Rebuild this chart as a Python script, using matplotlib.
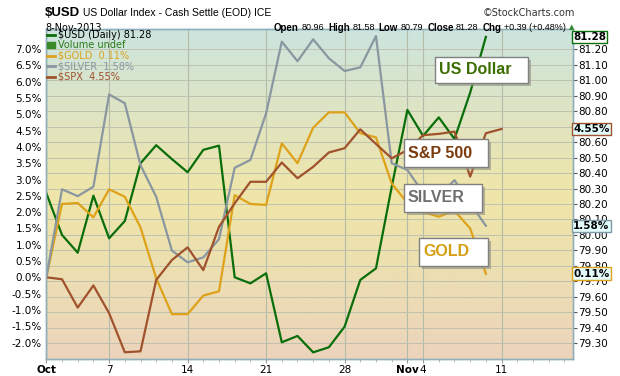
import numpy as np
import pandas as pd
import matplotlib
matplotlib.use("Agg")
import matplotlib.pyplot as plt
from matplotlib.lines import Line2D
from matplotlib.patches import Rectangle
from matplotlib.transforms import blended_transform_factory

# trading days Oct 1 - Nov 11, 2013 (SPX has one more day than the others)
dates = pd.bdate_range("2013-10-01", "2013-11-11")

usd = [80.27, 80.00, 79.885, 80.254, 79.978, 80.09, 80.463, 80.58, 80.49, 80.405,
       80.55, 80.577, 79.726, 79.687, 79.752, 79.306, 79.347, 79.241, 79.274, 79.407,
       79.709, 79.784, 80.31, 80.808, 80.64, 80.76, 80.62, 80.92, 81.28]
gold = [0.0, 2.25, 2.28, 1.84, 2.70, 2.47, 1.53, -0.03, -1.13, -1.13,
        -0.56, -0.43, 2.52, 2.25, 2.22, 4.11, 3.50, 4.59, 5.06, 5.06,
        4.42, 4.29, 2.88, 2.28, 2.00, 1.86, 2.04, 1.50, 0.11]
silver = [0.0, 2.70, 2.49, 2.78, 5.61, 5.34, 3.44, 2.47, 0.82, 0.46,
          0.61, 1.17, 3.36, 3.60, 5.03, 7.23, 6.63, 7.30, 6.72, 6.33,
          6.44, 7.40, 3.50, 3.29, 2.60, 2.50, 2.98, 2.27, 1.58]
spx = [0.0, -0.06, -0.93, -0.25, -1.10, -2.30, -2.27, -0.08, 0.53, 0.92,
       0.22, 1.55, 2.27, 2.93, 2.93, 3.52, 3.04, 3.39, 3.83, 3.96,
       4.54, 4.09, 3.65, 3.90, 4.36, 4.40, 4.47, 3.09, 4.42, 4.55]

pct_ticks = np.arange(-2.0, 7.01, 0.5)
price_ticks = np.arange(79.3, 81.21, 0.1)

header_keys = ["Open", "High", "Low", "Close", "Chg"]
header_vals = ["80.96", "81.58", "80.79", "81.28", "+0.39 (+0.48%)"]

C_USD = "#0a6e0a"
C_GOLD = "#dea21a"
C_SILVER = "#8a96a0"
C_SPX = "#a0522d"
GRID = "#bfc2ae"
SPINE = "#8fb0ba"

W, H = 620, 376
fig = plt.figure(figsize=(6.2, 3.76), dpi=100)
rect = [46 / W, 1 - 359 / H, (573 - 46) / W, (359 - 29) / H]

# gradient background
bg = fig.add_axes(rect)
bg.set_zorder(-1)
stops = np.array([[204, 229, 222], [226, 228, 190], [240, 230, 168], [236, 224, 176], [236, 212, 188]]) / 255
pos = np.array([0.0, 0.3, 0.5, 0.7, 1.0])
t = np.linspace(0, 1, 200)
grad = np.stack([np.interp(t, pos, stops[:, k]) for k in range(3)], axis=1)[:, None, :]
bg.imshow(grad, aspect="auto", extent=[0, 1, 0, 1])
bg.axis("off")

ax = fig.add_axes(rect)
ax2 = ax.twinx()
ax.set_zorder(2)
ax.patch.set_visible(False)
ax2.patch.set_visible(False)

x = np.arange(len(dates))
xl = (-0.02, 33.55)

# price axis (right) with grid and USD line
ax2.set_ylim(79.198, 81.331)
ax2.set_yticks(price_ticks)
ax2.set_yticklabels([f"{v:.2f}" for v in price_ticks])
ax2.yaxis.grid(True, color=GRID, lw=0.7)
ax2.tick_params(axis="y", length=3, width=0.8, color="#555555", pad=1, labelsize=7.5)
ax2.plot(x[:len(usd)], usd, color=C_USD, lw=1.6, zorder=3)

# weekly / month gridlines
week_idx = [i for i, d in enumerate(dates) if d.weekday() == 0 or d.day == 1]
for i in week_idx:
    ax2.axvline(i, color="#b3bba9", lw=0.8, zorder=1)

# percent axis (left)
ax.plot(x[:len(gold)], gold, color=C_GOLD, lw=1.6)
ax.plot(x[:len(silver)], silver, color=C_SILVER, lw=1.6)
ax.plot(x[:len(spx)], spx, color=C_SPX, lw=1.6)
ax.set_ylim(-2.506, 7.617)
ax.set_yticks(pct_ticks)
ax.set_yticklabels([f"{v:.1f}%" for v in pct_ticks])
ax.tick_params(axis="y", length=0, pad=3, labelsize=7.5)
ax.set_xlim(*xl)
ax2.set_xlim(*xl)

# x ticks
lab_idx, lab_txt = [], []
for i, d in enumerate(dates):
    if d.day == 1:
        lab_idx.append(i)
        lab_txt.append(d.strftime("%b"))
    elif d.weekday() == 0:
        lab_idx.append(i)
        lab_txt.append(str(d.day))
ax.set_xticks(lab_idx)
ax.set_xticklabels(lab_txt)
for tl in ax.get_xticklabels():
    if tl.get_text() in ("Oct", "Nov"):
        tl.set_fontweight("bold")
ax.set_xticks(np.arange(0, 34), minor=True)
ax.tick_params(axis="x", length=3, color="#999999", pad=1, labelsize=7.5)
ax.tick_params(axis="x", which="minor", length=2, color="#aaaaaa")

for a in (ax, ax2):
    for s in a.spines.values():
        s.set_color(SPINE)
        s.set_linewidth(1)

# legend
handles = [Line2D([], [], color=C_USD, lw=2),
           Rectangle((0, 0), 1, 1, color="#3a8a2a"),
           Line2D([], [], color=C_GOLD, lw=2),
           Line2D([], [], color=C_SILVER, lw=2),
           Line2D([], [], color=C_SPX, lw=2)]
labels = [f"$USD (Daily) {usd[-1]:.2f}", "Volume undef",
          f"$GOLD  {gold[-1]:.2f}%", f"$SILVER  {silver[-1]:.2f}%", f"$SPX  {spx[-1]:.2f}%"]
leg = ax.legend(handles, labels, loc="upper left", frameon=False, fontsize=7,
                handlelength=0.8, handletextpad=0.3, labelspacing=0.05,
                borderaxespad=0.1, borderpad=0.0,
                labelcolor=["black", "#2a7a1a", C_GOLD, C_SILVER, C_SPX])

# value tags on the right
trp = blended_transform_factory(ax.transAxes, ax.transData)
trv = blended_transform_factory(ax.transAxes, ax2.transData)
tags = [(trv, usd[-1], f"{usd[-1]:.2f}", C_USD, "white"),
        (trp, spx[-1], f"{spx[-1]:.2f}%", C_SPX, "#e4fbfb"),
        (trp, silver[-1], f"{silver[-1]:.2f}%", "#7f9aa8", "#e4fbfb"),
        (trp, gold[-1], f"{gold[-1]:.2f}%", C_GOLD, "#e4fbfb")]
for tr, yv, s, ec, fc in tags:
    ax.text(1.0, yv, s, transform=tr, ha="left", va="center", fontsize=7.5,
            fontweight="bold", zorder=10,
            bbox=dict(boxstyle="square,pad=0.12", fc=fc, ec=ec, lw=1))

# callout boxes (pixel boxes from top-left)
def px_box(x0, y0, x1, y1, text, color):
    fx0, fx1 = x0 / W, x1 / W
    fy0, fy1 = 1 - y1 / H, 1 - y0 / H
    fig.patches.append(Rectangle((fx0 + 3 / W, fy0 - 3 / H), fx1 - fx0, fy1 - fy0,
                                 transform=fig.transFigure, fc="#9a9a8a", ec="none",
                                 alpha=0.7, zorder=20))
    fig.patches.append(Rectangle((fx0, fy0), fx1 - fx0, fy1 - fy0,
                                 transform=fig.transFigure, fc="white", ec="#808080",
                                 lw=1, zorder=21))
    fig.text(fx0 + 4 / W, (fy0 + fy1) / 2, text, color=color, fontsize=11.5,
             fontweight="bold", family="Liberation Sans", va="center", ha="left",
             zorder=22)

px_box(435, 57, 528, 83, "US Dollar", "#3c6e00")
px_box(404, 139, 488, 167, "S&P 500", "#7a3a0a")
px_box(404, 184, 482, 212, "SILVER", "#6e6e6e")
px_box(419, 238, 488, 266, "GOLD", "#d4a010")

# header
fig.text(45 / W, 1 - 13 / H, "$USD", fontsize=9.5, fontweight="bold",
         family="Liberation Sans", va="center")
fig.text(83 / W, 1 - 13 / H, "US Dollar Index - Cash Settle (EOD) ICE", fontsize=7.5,
         family="Liberation Sans", va="center")
fig.text(575 / W, 1 - 13 / H, "\u00a9StockCharts.com", fontsize=7,
         family="DejaVu Sans", va="center", ha="right", color="#333333")
fig.text(45 / W, 1 - 28 / H, dates[len(usd) - 1].strftime("%-d-%b-%Y"), fontsize=7,
         family="DejaVu Sans", va="center")

# OHLC line: lay out pieces left to right, then shift so it ends near x=566
renderer = fig.canvas.get_renderer()
xp = 0
pieces = []
for k, v in zip(header_keys, header_vals):
    for s, wgt in ((k, "bold"), (v, "normal")):
        tt = fig.text(xp / W, 1 - 28 / H, s, fontsize=7 if wgt == "bold" else 6.5,
                      fontweight=wgt, family="Liberation Sans", va="center")
        bb = tt.get_window_extent(renderer)
        pieces.append(tt)
        xp = bb.x1 + (2.5 if wgt == "bold" else 4)
shift = 566 - (xp - 4)
for tt in pieces:
    x0 = tt.get_position()[0]
    tt.set_x(x0 + shift / W)
fig.text(569 / W, 1 - 27 / H, "\u25b2", fontsize=5, color="#2a8a2a", va="center")

fig.savefig("out.png", dpi=100)
